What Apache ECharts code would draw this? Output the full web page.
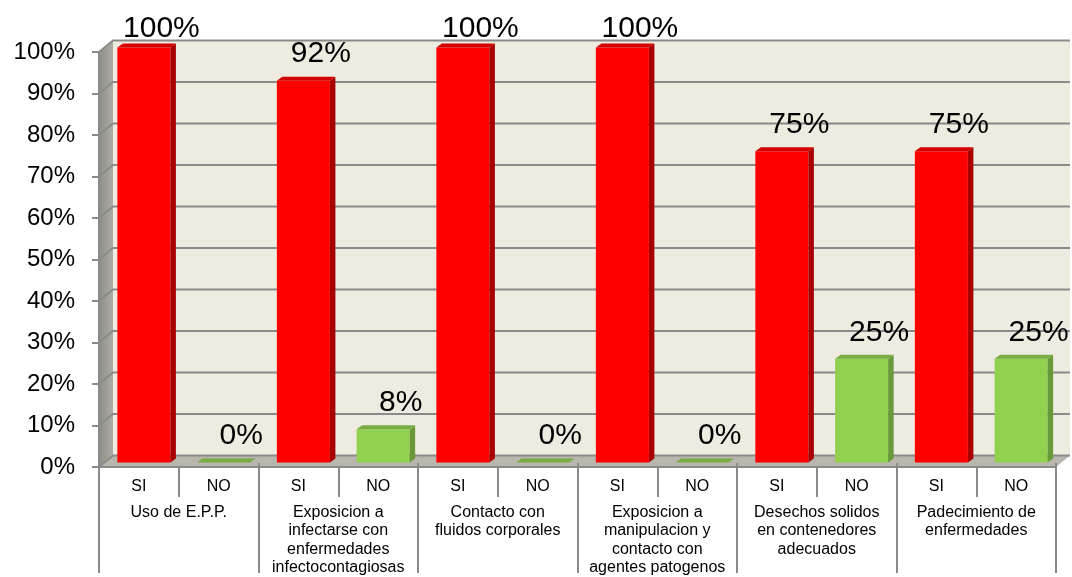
<!DOCTYPE html>
<html><head><meta charset="utf-8">
<script src="https://cdn.jsdelivr.net/npm/echarts@6/dist/echarts.min.js"></script>
<style>html,body{margin:0;padding:0;background:#fff}#c{width:1072px;height:577px}</style>
</head><body><div id="c"></div>
<script>
// ---- data ----
const answers = ['SI', 'NO'];
const groups = [
  'Uso de E.P.P.',
  'Exposicion a\ninfectarse con\nenfermedades\ninfectocontagiosas',
  'Contacto con\nfluidos corporales',
  'Exposicion a\nmanipulacion y\ncontacto con\nagentes patogenos',
  'Desechos solidos\nen contenedores\nadecuados',
  'Padecimiento de\nenfermedades'
];
const siValues = [100, 92, 100, 100, 75, 75];
const noValues = [0, 8, 0, 0, 25, 25];
const yTicks = [0, 10, 20, 30, 40, 50, 60, 70, 80, 90, 100];

// ---- derived ----
const subCats = [];
const barData = [];
groups.forEach((g, i) => {
  subCats.push(answers[0], answers[1]);
  barData.push([2 * i, siValues[i], 0]);
  barData.push([2 * i + 1, noValues[i], 1]);
});

// ---- style ----
const FONT = '"Liberation Sans", Arial, sans-serif';
const WALL_DX = 14, WALL_DY = -11.5;
const BAR_SX = 5, BAR_SY = -4.5, BAR_DX = 5.5, BAR_DY = -4;
const palette = [
  { front: '#FF0000', side: '#A80000', top: '#D20000' },
  { front: '#92D050', side: '#6A9A38', top: '#78AC44' }
];
const LINE = '#8a8a8a';

function renderWalls(params, api) {
  const cs = params.coordSys;
  const X0 = cs.x, X1 = cs.x + cs.width, Y0 = cs.y, Y1 = cs.y + cs.height;
  return {
    type: 'group',
    children: [
      { type: 'rect', shape: { x: X0 + WALL_DX, y: Y0 + WALL_DY, width: cs.width, height: cs.height },
        style: { fill: '#EEECE1' } },
      { type: 'polygon', shape: { points: [[X0, Y1], [X0, Y0], [X0 + WALL_DX, Y0 + WALL_DY], [X0 + WALL_DX, Y1 + WALL_DY]] },
        style: { fill: new echarts.graphic.LinearGradient(0, 0, 1, 0, [{ offset: 0, color: '#8e8e86' }, { offset: 1, color: '#aeada5' }]) } },
      { type: 'polygon', shape: { points: [[X0, Y1], [X1, Y1], [X1 + WALL_DX, Y1 + WALL_DY], [X0 + WALL_DX, Y1 + WALL_DY]] },
        style: { fill: '#b9b6ad' } }
    ]
  };
}

function renderGrid(params, api) {
  const cs = params.coordSys;
  const X0 = cs.x, X1 = cs.x + cs.width;
  const y = api.coord([0, api.value(1)])[1];
  return {
    type: 'polyline',
    shape: { points: [[X0, y], [X0 + WALL_DX, y + WALL_DY], [X1 + WALL_DX, y + WALL_DY]] },
    style: { stroke: LINE, lineWidth: 2, fill: null }
  };
}

function renderBar(params, api) {
  const idx = api.value(0), v = api.value(1), kind = api.value(2);
  const top = api.coord([idx, v]);
  const base = api.coord([idx, 0]);
  const slot = api.size([1, 0])[0];
  const w = slot * 0.665;
  const cx = top[0] + BAR_SX;
  const x0 = cx - w / 2, x1 = cx + w / 2;
  const yT = top[1] + BAR_SY, yB = base[1] + BAR_SY;
  const c = palette[kind];
  const ly = Math.max(yT - 26.5, 28.5);
  return {
    type: 'group',
    children: [
      { type: 'rect', shape: { x: x0, y: yT, width: w, height: yB - yT }, style: { fill: c.front } },
      { type: 'polygon', shape: { points: [[x1, yT], [x1 + BAR_DX, yT + BAR_DY], [x1 + BAR_DX, yB + BAR_DY], [x1, yB]] }, style: { fill: c.side } },
      { type: 'polygon', shape: { points: [[x0, yT], [x1, yT], [x1 + BAR_DX, yT + BAR_DY], [x0 + BAR_DX, yT + BAR_DY]] }, style: { fill: c.top } },
      { type: 'text', style: { text: v + '%', x: cx + 17.5, y: ly, align: 'center', verticalAlign: 'middle',
        font: '30px ' + FONT, fill: '#000' } }
    ]
  };
}

const chart = echarts.init(document.getElementById('c'), null, { renderer: 'canvas' });
const gridPos = { left: 99, right: 16, top: 52, bottom: 110, containLabel: false };
chart.setOption({
  animation: false,
  backgroundColor: '#ffffff',
  grid: [Object.assign({}, gridPos), Object.assign({}, gridPos)],
  xAxis: [
    { type: 'category', gridIndex: 0, data: subCats, position: 'bottom', z: 5,
      axisLine: { show: true, lineStyle: { color: LINE, width: 2 } },
      axisTick: { show: true, interval: 0, length: 30, lineStyle: { color: LINE, width: 2 } },
      axisLabel: { interval: 0, margin: 20, fontSize: 16, fontFamily: FONT, color: '#000', verticalAlign: 'middle' },
      splitLine: { show: false } },
    { type: 'category', gridIndex: 1, data: groups, position: 'bottom', z: 5,
      axisLine: { show: false },
      axisTick: { show: true, interval: 0, length: 110, lineStyle: { color: LINE, width: 2 } },
      axisLabel: { interval: 0, margin: 40, fontSize: 16, lineHeight: 18.5, fontFamily: FONT, color: '#000', verticalAlign: 'top', align: 'center' },
      splitLine: { show: false } }
  ],
  yAxis: [
    { type: 'value', gridIndex: 0, min: 0, max: 100, interval: 10, z: 5,
      axisLine: { show: true, lineStyle: { color: LINE, width: 2 } },
      axisTick: { show: true, length: 7, lineStyle: { color: LINE, width: 2 } },
      axisLabel: { formatter: '{value}%', margin: 24, fontSize: 24, fontFamily: FONT, color: '#000', padding: [5, 0, 0, 0] },
      splitLine: { show: false } },
    { type: 'value', gridIndex: 1, min: 0, max: 100, show: false, splitLine: { show: false } }
  ],
  series: [
    { type: 'custom', name: 'walls', xAxisIndex: 0, yAxisIndex: 0, z: 1, silent: true, clip: false,
      renderItem: renderWalls, data: [[0, 0]] },
    { type: 'custom', name: 'grid', xAxisIndex: 0, yAxisIndex: 0, z: 2, silent: true, clip: false,
      renderItem: renderGrid, data: yTicks.map(v => [0, v]) },
    { type: 'custom', name: 'bars', xAxisIndex: 0, yAxisIndex: 0, z: 3, clip: false,
      renderItem: renderBar, data: barData }
  ]
});
</script>
</body></html>
